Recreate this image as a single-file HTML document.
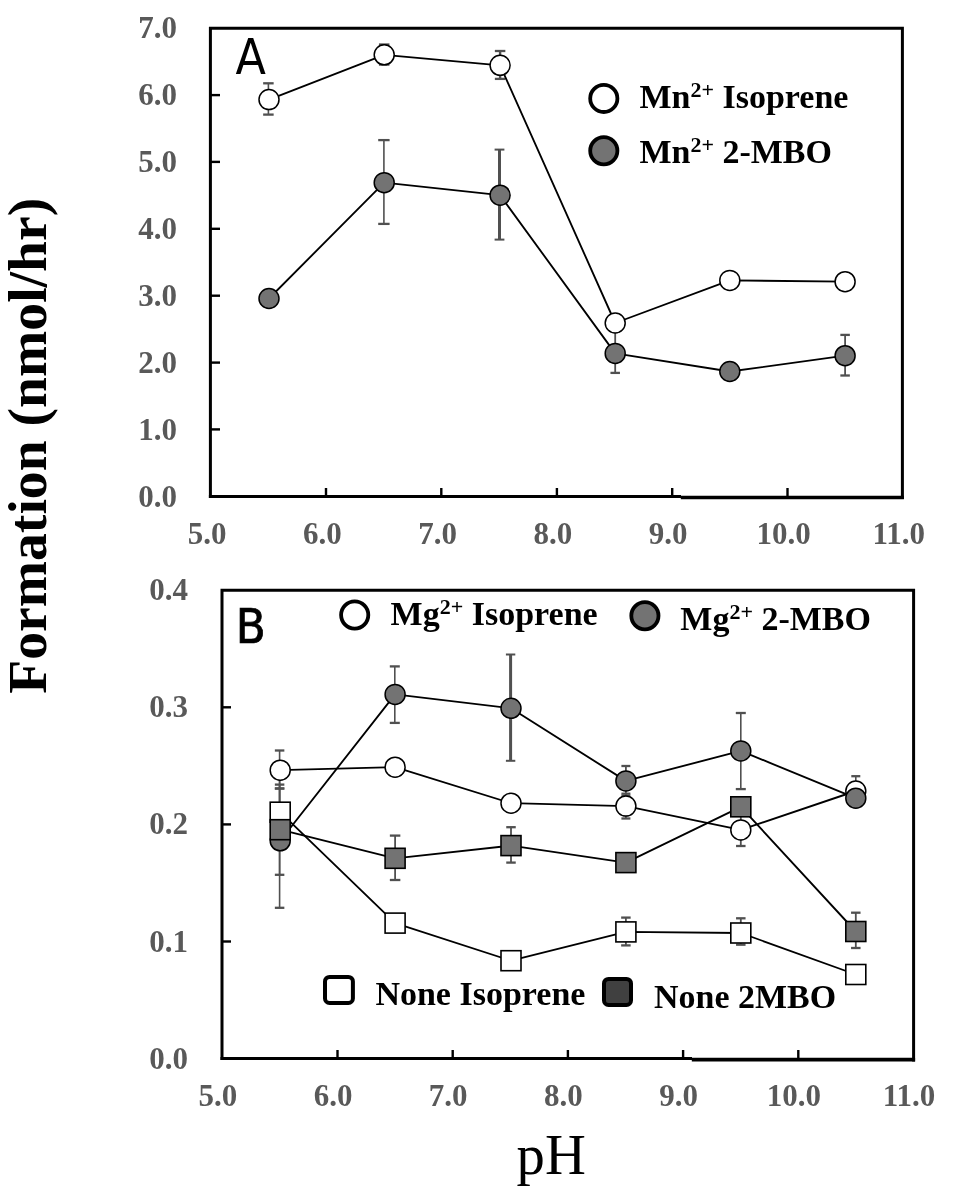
<!DOCTYPE html>
<html lang="en">
<head>
<meta charset="utf-8">
<title>Formation vs pH</title>
<style>
html,body{margin:0;padding:0;background:#fff;}
body{width:969px;height:1191px;overflow:hidden;}
svg{display:block;will-change:transform;}
text{white-space:pre;}
</style>
</head>
<body>
<svg width="969" height="1191" viewBox="0 0 969 1191">
<rect width="969" height="1191" fill="#fff"/>
<path d="M210.4 498.0 V28.2 H902.4 V499.1" fill="none" stroke="#000" stroke-width="3" stroke-linejoin="miter"/>
<line x1="208.9" y1="496.5" x2="681" y2="496.5" stroke="#000" stroke-width="3" />
<line x1="680.8" y1="497.5" x2="903.9" y2="497.5" stroke="#000" stroke-width="3.3" />
<line x1="210.4" y1="429.4" x2="220.0" y2="429.4" stroke="#000" stroke-width="2.4" />
<line x1="210.4" y1="362.6" x2="220.0" y2="362.6" stroke="#000" stroke-width="2.4" />
<line x1="210.4" y1="295.7" x2="220.0" y2="295.7" stroke="#000" stroke-width="2.4" />
<line x1="210.4" y1="228.8" x2="220.0" y2="228.8" stroke="#000" stroke-width="2.4" />
<line x1="210.4" y1="161.9" x2="220.0" y2="161.9" stroke="#000" stroke-width="2.4" />
<line x1="210.4" y1="95.1" x2="220.0" y2="95.1" stroke="#000" stroke-width="2.4" />
<text x="177.0" y="506.9" font-family='"Liberation Serif", serif' font-size="31" font-weight="bold" fill="#595959" text-anchor="end" >0.0</text>
<text x="177.0" y="439.9" font-family='"Liberation Serif", serif' font-size="31" font-weight="bold" fill="#595959" text-anchor="end" >1.0</text>
<text x="177.0" y="372.9" font-family='"Liberation Serif", serif' font-size="31" font-weight="bold" fill="#595959" text-anchor="end" >2.0</text>
<text x="177.0" y="305.8" font-family='"Liberation Serif", serif' font-size="31" font-weight="bold" fill="#595959" text-anchor="end" >3.0</text>
<text x="177.0" y="238.7" font-family='"Liberation Serif", serif' font-size="31" font-weight="bold" fill="#595959" text-anchor="end" >4.0</text>
<text x="177.0" y="171.7" font-family='"Liberation Serif", serif' font-size="31" font-weight="bold" fill="#595959" text-anchor="end" >5.0</text>
<text x="177.0" y="104.7" font-family='"Liberation Serif", serif' font-size="31" font-weight="bold" fill="#595959" text-anchor="end" >6.0</text>
<text x="177.0" y="37.6" font-family='"Liberation Serif", serif' font-size="31" font-weight="bold" fill="#595959" text-anchor="end" >7.0</text>
<line x1="326.0" y1="496.5" x2="326.0" y2="488" stroke="#000" stroke-width="2.4" />
<line x1="441.3" y1="496.5" x2="441.3" y2="488" stroke="#000" stroke-width="2.4" />
<line x1="556.9" y1="496.5" x2="556.9" y2="488" stroke="#000" stroke-width="2.4" />
<line x1="672.2" y1="496.5" x2="672.2" y2="488" stroke="#000" stroke-width="2.4" />
<line x1="787.5" y1="496.5" x2="787.5" y2="488" stroke="#000" stroke-width="2.4" />
<text x="207.0" y="544.1" font-family='"Liberation Serif", serif' font-size="31" font-weight="bold" fill="#595959" text-anchor="middle" >5.0</text>
<text x="322.3" y="544.1" font-family='"Liberation Serif", serif' font-size="31" font-weight="bold" fill="#595959" text-anchor="middle" >6.0</text>
<text x="437.6" y="544.1" font-family='"Liberation Serif", serif' font-size="31" font-weight="bold" fill="#595959" text-anchor="middle" >7.0</text>
<text x="552.9" y="544.1" font-family='"Liberation Serif", serif' font-size="31" font-weight="bold" fill="#595959" text-anchor="middle" >8.0</text>
<text x="668.2" y="544.1" font-family='"Liberation Serif", serif' font-size="31" font-weight="bold" fill="#595959" text-anchor="middle" >9.0</text>
<text x="783.5" y="544.1" font-family='"Liberation Serif", serif' font-size="31" font-weight="bold" fill="#595959" text-anchor="middle" >10.0</text>
<text x="898.8" y="544.1" font-family='"Liberation Serif", serif' font-size="31" font-weight="bold" fill="#595959" text-anchor="middle" >11.0</text>
<line x1="268.4" y1="83.3" x2="268.4" y2="114.6" stroke="#505050" stroke-width="1.6" />
<line x1="263.15" y1="83.3" x2="273.65" y2="83.3" stroke="#505050" stroke-width="2.3" />
<line x1="263.15" y1="114.6" x2="273.65" y2="114.6" stroke="#505050" stroke-width="2.3" />
<line x1="384.2" y1="44.5" x2="384.2" y2="64.6" stroke="#505050" stroke-width="1.6" />
<line x1="378.95" y1="44.5" x2="389.45" y2="44.5" stroke="#505050" stroke-width="2.3" />
<line x1="378.95" y1="64.6" x2="389.45" y2="64.6" stroke="#505050" stroke-width="2.3" />
<line x1="500.1" y1="51" x2="500.1" y2="78.9" stroke="#505050" stroke-width="2.4" />
<line x1="494.85" y1="51" x2="505.35" y2="51" stroke="#505050" stroke-width="2.3" />
<line x1="494.85" y1="78.9" x2="505.35" y2="78.9" stroke="#505050" stroke-width="2.3" />
<line x1="383.9" y1="140.1" x2="383.9" y2="223.9" stroke="#505050" stroke-width="1.6" />
<line x1="378.2" y1="140.1" x2="389.59999999999997" y2="140.1" stroke="#505050" stroke-width="2.3" />
<line x1="378.2" y1="223.9" x2="389.59999999999997" y2="223.9" stroke="#505050" stroke-width="2.3" />
<line x1="499.5" y1="149.6" x2="499.5" y2="239.6" stroke="#505050" stroke-width="3" />
<line x1="494.6" y1="149.6" x2="504.4" y2="149.6" stroke="#505050" stroke-width="2" />
<line x1="494.6" y1="239.6" x2="504.4" y2="239.6" stroke="#505050" stroke-width="2" />
<line x1="615.2" y1="331.5" x2="615.2" y2="372.9" stroke="#505050" stroke-width="1.8" />
<line x1="610.45" y1="331.5" x2="619.95" y2="331.5" stroke="#505050" stroke-width="2.3" />
<line x1="610.45" y1="372.9" x2="619.95" y2="372.9" stroke="#505050" stroke-width="2.3" />
<line x1="845.1" y1="334.9" x2="845.1" y2="375.5" stroke="#505050" stroke-width="1.8" />
<line x1="840.35" y1="334.9" x2="849.85" y2="334.9" stroke="#505050" stroke-width="2.3" />
<line x1="840.35" y1="375.5" x2="849.85" y2="375.5" stroke="#505050" stroke-width="2.3" />
<polyline points="269,99.6 384.2,54.8 500.1,65.3 615.2,323 729.8,280.4 845.1,281.7" fill="none" stroke="#000" stroke-width="1.85" stroke-linejoin="round"/>
<circle cx="269" cy="99.6" r="10" fill="#fff" stroke="#000" stroke-width="1.5"/>
<circle cx="384.2" cy="54.8" r="10" fill="#fff" stroke="#000" stroke-width="1.5"/>
<circle cx="500.1" cy="65.3" r="10" fill="#fff" stroke="#000" stroke-width="1.5"/>
<circle cx="615.2" cy="323" r="10" fill="#fff" stroke="#000" stroke-width="1.5"/>
<circle cx="729.8" cy="280.4" r="10" fill="#fff" stroke="#000" stroke-width="1.5"/>
<circle cx="845.1" cy="281.7" r="10" fill="#fff" stroke="#000" stroke-width="1.5"/>
<polyline points="269,298.5 384.2,182.65 500.1,195.2 615.2,353.4 729.8,371.5 845.1,355.7" fill="none" stroke="#000" stroke-width="1.85" stroke-linejoin="round"/>
<circle cx="269" cy="298.5" r="10" fill="#737373" stroke="#000" stroke-width="1.5"/>
<circle cx="384.2" cy="182.65" r="10" fill="#737373" stroke="#000" stroke-width="1.5"/>
<circle cx="500.1" cy="195.2" r="10" fill="#737373" stroke="#000" stroke-width="1.5"/>
<circle cx="615.2" cy="353.4" r="10" fill="#737373" stroke="#000" stroke-width="1.5"/>
<circle cx="729.8" cy="371.5" r="10" fill="#737373" stroke="#000" stroke-width="1.5"/>
<circle cx="845.1" cy="355.7" r="10" fill="#737373" stroke="#000" stroke-width="1.5"/>
<circle cx="603.8" cy="98.4" r="13.6" fill="#fff" stroke="#000" stroke-width="3.8"/>
<circle cx="603.8" cy="150.7" r="13.6" fill="#737373" stroke="#000" stroke-width="3.8"/>
<text x="639.4" y="107.9" font-family='"Liberation Serif", serif' font-size="34" font-weight="bold" fill="#000">Mn<tspan font-size="22" dy="-10.6">2+</tspan><tspan dy="10.6"> Isoprene</tspan></text>
<text x="639.4" y="162.9" font-family='"Liberation Serif", serif' font-size="34" font-weight="bold" fill="#000">Mn<tspan font-size="22" dy="-10.6">2+</tspan><tspan dy="10.6"> 2-MBO</tspan></text>
<text x="235.6" y="73.8" font-family='"DejaVu Sans Condensed", "DejaVu Sans", sans-serif' font-size="49.4" fill="#000">A</text>
<path d="M222 1060.1 V590.3 H913.6 V1061.5" fill="none" stroke="#000" stroke-width="3" stroke-linejoin="miter"/>
<line x1="220.5" y1="1058.6" x2="692" y2="1058.6" stroke="#000" stroke-width="3" />
<line x1="691.8" y1="1059.6" x2="915.1" y2="1059.6" stroke="#000" stroke-width="3.8" />
<line x1="222" y1="941.5" x2="231" y2="941.5" stroke="#000" stroke-width="2.4" />
<line x1="222" y1="824.4" x2="231" y2="824.4" stroke="#000" stroke-width="2.4" />
<line x1="222" y1="707.3" x2="231" y2="707.3" stroke="#000" stroke-width="2.4" />
<text x="187.9" y="1069.1" font-family='"Liberation Serif", serif' font-size="31" font-weight="bold" fill="#595959" text-anchor="end" >0.0</text>
<text x="187.9" y="951.7" font-family='"Liberation Serif", serif' font-size="31" font-weight="bold" fill="#595959" text-anchor="end" >0.1</text>
<text x="187.9" y="834.3" font-family='"Liberation Serif", serif' font-size="31" font-weight="bold" fill="#595959" text-anchor="end" >0.2</text>
<text x="187.9" y="716.9" font-family='"Liberation Serif", serif' font-size="31" font-weight="bold" fill="#595959" text-anchor="end" >0.3</text>
<text x="187.9" y="599.5" font-family='"Liberation Serif", serif' font-size="31" font-weight="bold" fill="#595959" text-anchor="end" >0.4</text>
<line x1="337.5" y1="1058.6" x2="337.5" y2="1050" stroke="#000" stroke-width="2.4" />
<line x1="452.7" y1="1058.6" x2="452.7" y2="1050" stroke="#000" stroke-width="2.4" />
<line x1="567.9" y1="1058.6" x2="567.9" y2="1050" stroke="#000" stroke-width="2.4" />
<line x1="683.1" y1="1058.6" x2="683.1" y2="1050" stroke="#000" stroke-width="2.4" />
<line x1="798.3" y1="1058.6" x2="798.3" y2="1050" stroke="#000" stroke-width="2.4" />
<text x="217.8" y="1106.2" font-family='"Liberation Serif", serif' font-size="31" font-weight="bold" fill="#595959" text-anchor="middle" >5.0</text>
<text x="333.0" y="1106.2" font-family='"Liberation Serif", serif' font-size="31" font-weight="bold" fill="#595959" text-anchor="middle" >6.0</text>
<text x="448.2" y="1106.2" font-family='"Liberation Serif", serif' font-size="31" font-weight="bold" fill="#595959" text-anchor="middle" >7.0</text>
<text x="563.4" y="1106.2" font-family='"Liberation Serif", serif' font-size="31" font-weight="bold" fill="#595959" text-anchor="middle" >8.0</text>
<text x="678.6" y="1106.2" font-family='"Liberation Serif", serif' font-size="31" font-weight="bold" fill="#595959" text-anchor="middle" >9.0</text>
<text x="793.8" y="1106.2" font-family='"Liberation Serif", serif' font-size="31" font-weight="bold" fill="#595959" text-anchor="middle" >10.0</text>
<text x="909.0" y="1106.2" font-family='"Liberation Serif", serif' font-size="31" font-weight="bold" fill="#595959" text-anchor="middle" >11.0</text>
<line x1="279.59999999999997" y1="750.5" x2="279.59999999999997" y2="788.5" stroke="#505050" stroke-width="1.6" />
<line x1="274.84999999999997" y1="750.5" x2="284.34999999999997" y2="750.5" stroke="#505050" stroke-width="2.3" />
<line x1="274.84999999999997" y1="788.5" x2="284.34999999999997" y2="788.5" stroke="#505050" stroke-width="2.3" />
<line x1="625.9" y1="793.7" x2="625.9" y2="818.5" stroke="#505050" stroke-width="1.8" />
<line x1="621.4" y1="793.7" x2="630.4" y2="793.7" stroke="#505050" stroke-width="2.3" />
<line x1="621.4" y1="818.5" x2="630.4" y2="818.5" stroke="#505050" stroke-width="2.3" />
<line x1="740.8" y1="813.8" x2="740.8" y2="846" stroke="#505050" stroke-width="1.8" />
<line x1="736.05" y1="813.8" x2="745.55" y2="813.8" stroke="#505050" stroke-width="2.3" />
<line x1="736.05" y1="846" x2="745.55" y2="846" stroke="#505050" stroke-width="2.3" />
<line x1="855.8" y1="776.2" x2="855.8" y2="805.8" stroke="#505050" stroke-width="1.6" />
<line x1="851.3" y1="776.2" x2="860.3" y2="776.2" stroke="#505050" stroke-width="2.3" />
<line x1="851.3" y1="805.8" x2="860.3" y2="805.8" stroke="#505050" stroke-width="2.3" />
<line x1="279.59999999999997" y1="773.8" x2="279.59999999999997" y2="907.8" stroke="#505050" stroke-width="1.6" />
<line x1="274.84999999999997" y1="773.8" x2="284.34999999999997" y2="773.8" stroke="#505050" stroke-width="2.3" />
<line x1="274.84999999999997" y1="907.8" x2="284.34999999999997" y2="907.8" stroke="#505050" stroke-width="2.3" />
<line x1="394.8" y1="666.4" x2="394.8" y2="722.9" stroke="#505050" stroke-width="1.6" />
<line x1="389.8" y1="666.4" x2="399.8" y2="666.4" stroke="#505050" stroke-width="2.3" />
<line x1="389.8" y1="722.9" x2="399.8" y2="722.9" stroke="#505050" stroke-width="2.3" />
<line x1="510.6" y1="654.5" x2="510.6" y2="760.8" stroke="#505050" stroke-width="3" />
<line x1="505.90000000000003" y1="654.5" x2="515.3000000000001" y2="654.5" stroke="#505050" stroke-width="2" />
<line x1="505.90000000000003" y1="760.8" x2="515.3000000000001" y2="760.8" stroke="#505050" stroke-width="2" />
<line x1="625.9" y1="766" x2="625.9" y2="795.8" stroke="#505050" stroke-width="1.8" />
<line x1="621.4" y1="766" x2="630.4" y2="766" stroke="#505050" stroke-width="2.3" />
<line x1="621.4" y1="795.8" x2="630.4" y2="795.8" stroke="#505050" stroke-width="2.3" />
<line x1="740.8" y1="713" x2="740.8" y2="789.1" stroke="#505050" stroke-width="1.6" />
<line x1="735.8" y1="713" x2="745.8" y2="713" stroke="#505050" stroke-width="2.3" />
<line x1="735.8" y1="789.1" x2="745.8" y2="789.1" stroke="#505050" stroke-width="2.3" />
<line x1="279.59999999999997" y1="788.5" x2="279.59999999999997" y2="836" stroke="#505050" stroke-width="1.6" />
<line x1="274.84999999999997" y1="788.5" x2="284.34999999999997" y2="788.5" stroke="#505050" stroke-width="2.3" />
<line x1="274.84999999999997" y1="836" x2="284.34999999999997" y2="836" stroke="#505050" stroke-width="2.3" />
<line x1="625.9" y1="917.6" x2="625.9" y2="945.4" stroke="#505050" stroke-width="1.8" />
<line x1="621.15" y1="917.6" x2="630.65" y2="917.6" stroke="#505050" stroke-width="2.3" />
<line x1="621.15" y1="945.4" x2="630.65" y2="945.4" stroke="#505050" stroke-width="2.3" />
<line x1="740.8" y1="918.3" x2="740.8" y2="944.7" stroke="#505050" stroke-width="1.8" />
<line x1="736.05" y1="918.3" x2="745.55" y2="918.3" stroke="#505050" stroke-width="2.3" />
<line x1="736.05" y1="944.7" x2="745.55" y2="944.7" stroke="#505050" stroke-width="2.3" />
<line x1="279.59999999999997" y1="784.6" x2="279.59999999999997" y2="874.8" stroke="#505050" stroke-width="1.6" />
<line x1="274.84999999999997" y1="784.6" x2="284.34999999999997" y2="784.6" stroke="#505050" stroke-width="2.3" />
<line x1="274.84999999999997" y1="874.8" x2="284.34999999999997" y2="874.8" stroke="#505050" stroke-width="2.3" />
<line x1="395.1" y1="835.6" x2="395.1" y2="880" stroke="#505050" stroke-width="1.8" />
<line x1="389.85" y1="835.6" x2="400.35" y2="835.6" stroke="#505050" stroke-width="2.3" />
<line x1="389.85" y1="880" x2="400.35" y2="880" stroke="#505050" stroke-width="2.3" />
<line x1="511" y1="827.2" x2="511" y2="862.6" stroke="#505050" stroke-width="1.8" />
<line x1="506.25" y1="827.2" x2="515.75" y2="827.2" stroke="#505050" stroke-width="2.3" />
<line x1="506.25" y1="862.6" x2="515.75" y2="862.6" stroke="#505050" stroke-width="2.3" />
<line x1="855.8" y1="912.7" x2="855.8" y2="948" stroke="#505050" stroke-width="1.8" />
<line x1="851.05" y1="912.7" x2="860.55" y2="912.7" stroke="#505050" stroke-width="2.3" />
<line x1="851.05" y1="948" x2="860.55" y2="948" stroke="#505050" stroke-width="2.3" />
<polyline points="280.2,770.2 395.1,767.2 511,803.2 625.9,806.1 740.8,829.9 855.8,791" fill="none" stroke="#000" stroke-width="1.85" stroke-linejoin="round"/>
<circle cx="280.2" cy="770.2" r="10" fill="#fff" stroke="#000" stroke-width="1.5"/>
<circle cx="395.1" cy="767.2" r="10" fill="#fff" stroke="#000" stroke-width="1.5"/>
<circle cx="511" cy="803.2" r="10" fill="#fff" stroke="#000" stroke-width="1.5"/>
<circle cx="625.9" cy="806.1" r="10" fill="#fff" stroke="#000" stroke-width="1.5"/>
<circle cx="740.8" cy="829.9" r="10" fill="#fff" stroke="#000" stroke-width="1.5"/>
<circle cx="855.8" cy="791" r="10" fill="#fff" stroke="#000" stroke-width="1.5"/>
<polyline points="280.2,840.8 395.1,694.4 511,708.3 625.9,780.9 740.8,750.9 855.8,798.2" fill="none" stroke="#000" stroke-width="1.85" stroke-linejoin="round"/>
<circle cx="280.2" cy="840.8" r="10" fill="#737373" stroke="#000" stroke-width="1.5"/>
<circle cx="395.1" cy="694.4" r="10" fill="#737373" stroke="#000" stroke-width="1.5"/>
<circle cx="511" cy="708.3" r="10" fill="#737373" stroke="#000" stroke-width="1.5"/>
<circle cx="625.9" cy="780.9" r="10" fill="#737373" stroke="#000" stroke-width="1.5"/>
<circle cx="740.8" cy="750.9" r="10" fill="#737373" stroke="#000" stroke-width="1.5"/>
<circle cx="855.8" cy="798.2" r="10" fill="#737373" stroke="#000" stroke-width="1.5"/>
<polyline points="280.2,812.2 395.1,923.1 511,960.7 625.9,931.9 740.8,933 855.8,974.5" fill="none" stroke="#000" stroke-width="1.85" stroke-linejoin="round"/>
<rect x="270.2" y="802.2" width="20" height="20" fill="#fff" stroke="#000" stroke-width="1.6"/>
<rect x="385.1" y="913.1" width="20" height="20" fill="#fff" stroke="#000" stroke-width="1.6"/>
<rect x="501.0" y="950.7" width="20" height="20" fill="#fff" stroke="#000" stroke-width="1.6"/>
<rect x="615.9" y="921.9" width="20" height="20" fill="#fff" stroke="#000" stroke-width="1.6"/>
<rect x="730.8" y="923.0" width="20" height="20" fill="#fff" stroke="#000" stroke-width="1.6"/>
<rect x="845.8" y="964.5" width="20" height="20" fill="#fff" stroke="#000" stroke-width="1.6"/>
<polyline points="280.2,829.7 395.1,858.3 511,845.6 625.9,862.6 740.8,806.8 855.8,931.5" fill="none" stroke="#000" stroke-width="1.85" stroke-linejoin="round"/>
<rect x="270.2" y="819.7" width="20" height="20" fill="#737373" stroke="#000" stroke-width="1.6"/>
<rect x="385.1" y="848.3" width="20" height="20" fill="#737373" stroke="#000" stroke-width="1.6"/>
<rect x="501.0" y="835.6" width="20" height="20" fill="#737373" stroke="#000" stroke-width="1.6"/>
<rect x="615.9" y="852.6" width="20" height="20" fill="#737373" stroke="#000" stroke-width="1.6"/>
<rect x="730.8" y="796.8" width="20" height="20" fill="#737373" stroke="#000" stroke-width="1.6"/>
<rect x="845.8" y="921.5" width="20" height="20" fill="#737373" stroke="#000" stroke-width="1.6"/>
<circle cx="354.7" cy="615" r="13.6" fill="#fff" stroke="#000" stroke-width="3.8"/>
<circle cx="644.9" cy="615.7" r="13.6" fill="#737373" stroke="#000" stroke-width="3.8"/>
<text x="390.6" y="625.0" font-family='"Liberation Serif", serif' font-size="34" font-weight="bold" fill="#000">Mg<tspan font-size="22" dy="-10.6">2+</tspan><tspan dy="10.6"> Isoprene</tspan></text>
<text x="680.3" y="629.9" font-family='"Liberation Serif", serif' font-size="34" font-weight="bold" fill="#000">Mg<tspan font-size="22" dy="-10.6">2+</tspan><tspan dy="10.6"> 2-MBO</tspan></text>
<rect x="325.0" y="976.9" width="27.9" height="26" rx="4.5" ry="4.5" fill="#fff" stroke="#000" stroke-width="4"/>
<rect x="604.0" y="978.9" width="27" height="26" rx="4.5" ry="4.5" fill="#404040" stroke="#000" stroke-width="4"/>
<text x="375.4" y="1004.7" font-family='"Liberation Serif", serif' font-size="34" font-weight="bold" fill="#000" text-anchor="start" >None Isoprene</text>
<text x="654.1" y="1007.5" font-family='"Liberation Serif", serif' font-size="34" font-weight="bold" fill="#000" text-anchor="start" textLength="182" lengthAdjust="spacingAndGlyphs">None 2MBO</text>
<text x="235.8" y="643" font-family='"DejaVu Sans Condensed", "DejaVu Sans", sans-serif' font-size="48.6" fill="#000" stroke="#000" stroke-width="0.7">B</text>
<text transform="translate(45.6 693.8) rotate(-90)" font-family='"Liberation Serif", serif' font-size="55.5" font-weight="bold" fill="#000" textLength="496" lengthAdjust="spacingAndGlyphs">Formation (nmol/hr)</text>
<text x="516.6" y="1173.5" font-family='"Liberation Serif", serif' font-size="56.2" font-weight="normal" fill="#000" text-anchor="start" textLength="69.2" lengthAdjust="spacingAndGlyphs">pH</text>
</svg>
</body>
</html>
